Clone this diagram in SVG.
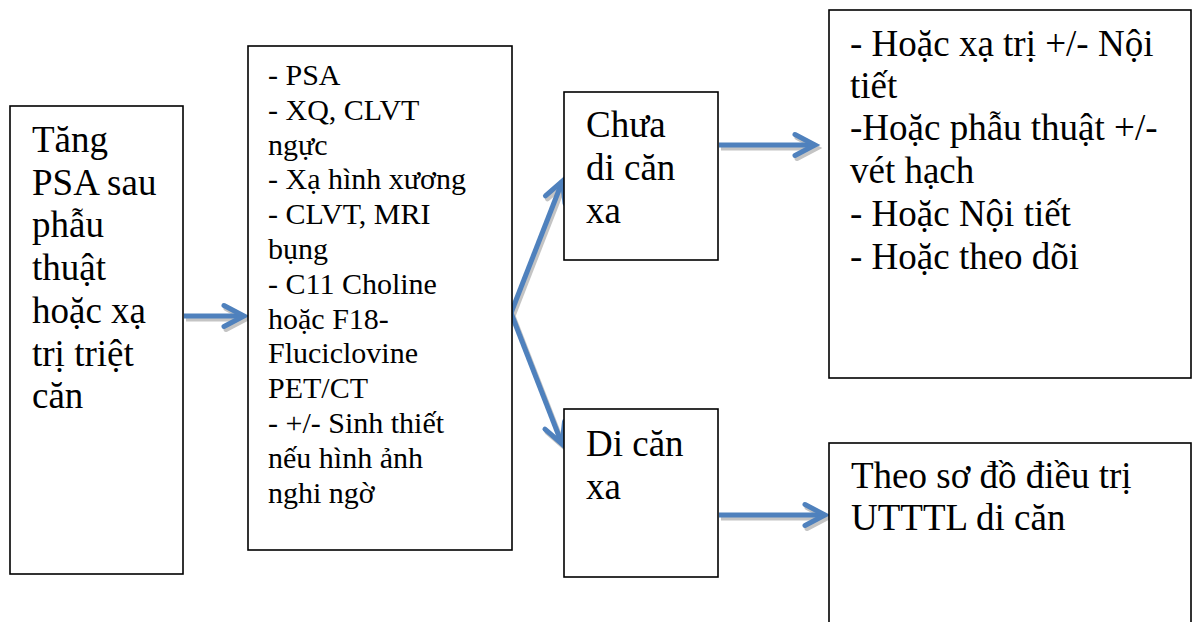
<svg xmlns="http://www.w3.org/2000/svg" width="1193" height="622" viewBox="0 0 1193 622">
  <style>
    .box { fill: #ffffff; stroke: #000000; stroke-width: 1.6; }
    .t37 { font-size: 37px; fill: #000000; }
    .t30 { font-size: 30px; fill: #000000; }
    .arrow { fill: none; stroke: #4F81BD; stroke-width: 5; marker-end: url(#head); }
    .shadow { fill: none; stroke: #c4c4c4; stroke-width: 5; marker-end: url(#headShadow); }
  </style>
  <defs>
    <marker id="head" markerUnits="userSpaceOnUse" markerWidth="40" markerHeight="40" viewBox="-30 -20 40 40" refX="0" refY="0" orient="auto" overflow="visible">
      <path d="M-20,-10.5 L0,0 L-20,10.5" fill="none" stroke="#4F81BD" stroke-width="5" stroke-linecap="round" stroke-linejoin="miter"/>
    </marker>
    <marker id="headShadow" markerUnits="userSpaceOnUse" markerWidth="40" markerHeight="40" viewBox="-30 -20 40 40" refX="0" refY="0" orient="auto" overflow="visible">
      <path d="M-20,-10.5 L0,0 L-20,10.5" fill="none" stroke="#c4c4c4" stroke-width="5" stroke-linecap="round" stroke-linejoin="miter"/>
    </marker>
  </defs>
  <rect width="1193" height="622" fill="#ffffff"/>

  <g id="connectors">
    <g id="shadows" transform="translate(2,3)">
      <path class="shadow" d="M184,316 L244,316"/>
      <path class="shadow" d="M511,313 L562.5,181"/>
      <path class="shadow" d="M511,313 L562,444"/>
      <path class="shadow" d="M719,145 L815,145"/>
      <path class="shadow" d="M719,515 L825,515"/>
    </g>
    <path class="arrow" d="M184,316 L244,316"/>
    <path class="arrow" d="M511,313 L562.5,181"/>
    <path class="arrow" d="M511,313 L562,444"/>
    <path class="arrow" d="M719,145 L815,145"/>
    <path class="arrow" d="M719,515 L825,515"/>
  </g>

  <g id="nodes" font-family="Liberation Serif, Times New Roman, DejaVu Serif, serif">
  <g id="node-start">
    <rect class="box" x="10" y="106" width="173" height="468"/>
    <text class="t37" x="32" y="152">Tăng</text>
    <text class="t37" x="32" y="194.7">PSA sau</text>
    <text class="t37" x="32" y="237.4">phẫu</text>
    <text class="t37" x="32" y="280.1">thuật</text>
    <text class="t37" x="32" y="322.8">hoặc xạ</text>
    <text class="t37" x="32" y="365.5">trị triệt</text>
    <text class="t37" x="32" y="408.2">căn</text>
  </g>

  <g id="node-tests">
    <rect class="box" x="248" y="46" width="264" height="504"/>
    <text class="t30" x="268" y="85">- PSA</text>
    <text class="t30" x="268" y="119.8">- XQ, CLVT</text>
    <text class="t30" x="268" y="154.6">ngực</text>
    <text class="t30" x="268" y="189.4">- Xạ hình xương</text>
    <text class="t30" x="268" y="224.2">- CLVT, MRI</text>
    <text class="t30" x="268" y="259">bụng</text>
    <text class="t30" x="268" y="293.8">- C11 Choline</text>
    <text class="t30" x="268" y="328.6">hoặc F18-</text>
    <text class="t30" x="268" y="363.4">Fluciclovine</text>
    <text class="t30" x="268" y="398.2">PET/CT</text>
    <text class="t30" x="268" y="433">- +/- Sinh thiết</text>
    <text class="t30" x="268" y="467.8">nếu hình ảnh</text>
    <text class="t30" x="268" y="502.6">nghi ngờ</text>
  </g>

  <g id="node-no-mets">
    <rect class="box" x="564" y="92" width="154" height="168"/>
    <text class="t37" x="586" y="137">Chưa</text>
    <text class="t37" x="586" y="180">di căn</text>
    <text class="t37" x="586" y="223">xa</text>
  </g>

  <g id="node-mets">
    <rect class="box" x="564" y="409" width="154" height="168"/>
    <text class="t37" x="586" y="456">Di căn</text>
    <text class="t37" x="586" y="499">xa</text>
  </g>

  <g id="node-options">
    <rect class="box" x="829" y="10" width="362" height="368"/>
    <text class="t37" x="850" y="56">- Hoặc xạ trị +/- Nội</text>
    <text class="t37" x="850" y="98">tiết</text>
    <text class="t37" x="850" y="140">-Hoặc phẫu thuật +/-</text>
    <text class="t37" x="850" y="183">vét hạch</text>
    <text class="t37" x="850" y="226">- Hoặc Nội tiết</text>
    <text class="t37" x="850" y="269">- Hoặc theo dõi</text>
  </g>

  <g id="node-metastatic">
    <rect class="box" x="829" y="443" width="362" height="200"/>
    <text class="t37" x="851" y="488">Theo sơ đồ điều trị</text>
    <text class="t37" x="851" y="530">UTTTL di căn</text>
  </g>
  </g>
</svg>
